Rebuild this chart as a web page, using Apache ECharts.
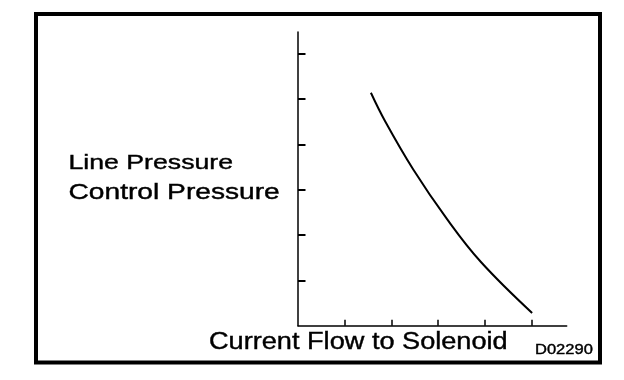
<!DOCTYPE html>
<html>
<head>
<meta charset="utf-8">
<script src="https://cdn.jsdelivr.net/npm/echarts@6/dist/echarts.min.js"></script>
<style>
html,body{margin:0;padding:0;background:#fff;}
#chart{width:624px;height:380px;}
</style>
</head>
<body>
<div id="chart"></div>
<script>
// Curve: current flow (x) vs. pressure (y)
const currentFlow = [1.56, 1.87, 2.47, 3.19, 3.91, 5.01];
const pressure    = [5.14, 4.50, 3.44, 2.35, 1.41, 0.28];
const xTicks = [1, 2, 3, 4, 5];
const yTicks = [1, 2, 3, 4, 5, 6];
const yTitleLines = ['Line Pressure', 'Control Pressure'];
const xTitle = 'Current Flow to Solenoid';
const figureCode = 'D02290';

const chart = echarts.init(document.getElementById('chart'), null, {renderer: 'canvas'});
const FONT = '"Liberation Sans", Arial, Helvetica, sans-serif';

function label(text, x, y, size, sx) {
  return {type: 'text', x: x, y: y, scaleX: sx,
    style: {text: text, font: size + 'px ' + FONT, fill: '#000', stroke: '#000', lineWidth: 0.4,
            textAlign: 'left', textVerticalAlign: 'middle'}};
}

const option = {
  animation: false,
  backgroundColor: '#ffffff',
  grid: {left: 298, top: 32, right: 57.3, bottom: 54.3, containLabel: false},
  xAxis: {
    type: 'value', min: 0, max: 5.75,
    axisLine: {show: true, lineStyle: {color: '#000', width: 1.5}},
    axisTick: {show: true, inside: true, length: 6, customValues: xTicks, lineStyle: {color: '#000', width: 1.5}},
    axisLabel: {show: false},
    splitLine: {show: false}
  },
  yAxis: {
    type: 'value', min: 0, max: 6.48,
    axisLine: {show: true, lineStyle: {color: '#000', width: 1.5}},
    axisTick: {show: true, inside: true, length: 7.5, customValues: yTicks, lineStyle: {color: '#000', width: 2}},
    axisLabel: {show: false},
    splitLine: {show: false}
  },
  series: [{
    type: 'line',
    data: currentFlow.map((x, i) => [x, pressure[i]]),
    smooth: 0.4,
    showSymbol: false,
    lineStyle: {color: '#000', width: 2}
  }],
  graphic: [
    {type: 'rect', shape: {x: 36, y: 14, width: 564, height: 348.5},
     style: {fill: 'none', stroke: '#000', lineWidth: 4}, silent: true},
    label(yTitleLines[0], 68.5, 163, 21, 1.27),
    label(yTitleLines[1], 68.5, 193, 22, 1.28),
    label(xTitle, 209, 343, 23, 1.18),
    label(figureCode, 535, 350, 14, 1.18)
  ]
};
chart.setOption(option);
</script>
</body>
</html>
